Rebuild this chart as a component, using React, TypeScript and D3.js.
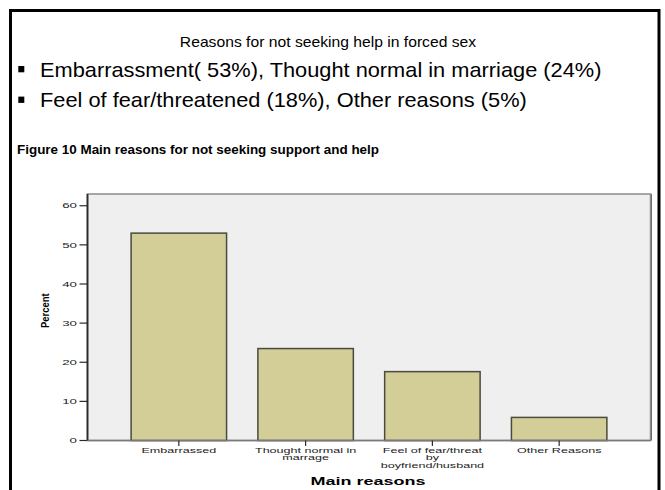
import React from 'react';
import * as d3 from 'd3';

// Slide text
const slideTitle = 'Reasons for not seeking help in forced sex';
const bulletLines = [
  'Embarrassment( 53%), Thought normal in marriage (24%)',
  'Feel of fear/threatened (18%), Other reasons (5%)',
];
const figureCaption = 'Figure 10 Main reasons for not seeking support and help';

// Chart data
const categories = ['Embarrassed', 'Thought normal in marrage', 'Feel of fear/threat by boyfriend/husband', 'Other Reasons'];
const categoryLines = [['Embarrassed'], ['Thought normal in', 'marrage'], ['Feel of fear/threat', 'by', 'boyfriend/husband'], ['Other Reasons']];
const percents = [53.0, 23.5, 17.6, 5.9];
const yTicks = [0, 10, 20, 30, 40, 50, 60];
const yTitle = 'Percent';
const xTitle = 'Main reasons';

const W = 665;
const H = 490;
const FONT = "Arial, 'Liberation Sans', sans-serif";

const plot = { left: 87.5, right: 650.5, top: 194, bottom: 440.5 };

export default function App() {
  const x = d3
    .scaleBand<string>()
    .domain(categories)
    .range([plot.left, plot.right])
    .paddingInner(0.247)
    .paddingOuter(0.344);
  const y = d3.scaleLinear().domain([0, 63]).range([plot.bottom, plot.top]);

  return (
    <svg
      width={W}
      height={H}
      style={{ position: 'absolute', left: 0, top: 0, background: '#fff' }}
      fontFamily={FONT}
    >
      {/* slide frame */}
      <rect x={10.5} y={10.5} width={648.5} height={520} fill="none" stroke="#000" strokeWidth={3} />

      {/* slide title */}
      <text transform={`translate(328,46.7) scale(1.12,1)`} textAnchor="middle" fontSize={14} fill="#000">
        {slideTitle}
      </text>

      {/* bullets */}
      {bulletLines.map((line, i) => {
        const base = 76.7 + i * 30.6;
        return (
          <g key={i}>
            <rect x={18.3} y={base - 10.7} width={6} height={6.3} fill="#000" />
            <text transform={`translate(40,${base}) scale(1.09,1)`} fontSize={20} fill="#000">
              {line}
            </text>
          </g>
        );
      })}

      {/* figure caption */}
      <text transform={`translate(17,153.7) scale(1.12,1)`} fontSize={12} fontWeight="bold" fill="#000">
        {figureCaption}
      </text>

      {/* plot background */}
      <rect
        x={plot.left}
        y={plot.top}
        width={plot.right - plot.left}
        height={plot.bottom - plot.top}
        fill="#efefef"
        stroke="#8c8c8c"
        strokeWidth={1.5}
      />
      <line x1={plot.right + 1} x2={plot.right + 1} y1={plot.top} y2={plot.bottom} stroke="#6e6e6e" strokeWidth={1} />

      {/* bars */}
      {categories.map((c, i) => (
        <rect
          key={c}
          x={x(c)}
          y={y(percents[i])}
          width={x.bandwidth()}
          height={y(0) - y(percents[i])}
          fill="#d3ce98"
          stroke="#4a4a3e"
          strokeWidth={1.5}
        />
      ))}

      {/* y axis */}
      <line x1={plot.left} x2={plot.left} y1={plot.top} y2={plot.bottom} stroke="#2a2a2a" strokeWidth={1.8} />
      {yTicks.map((t) => (
        <g key={t}>
          <line x1={plot.left - 8} x2={plot.left} y1={y(t)} y2={y(t)} stroke="#2a2a2a" strokeWidth={1.2} />
          <text
            transform={`translate(77,${y(t) + 2.7}) scale(1.8,1)`}
            textAnchor="end"
            fontSize={7.4}
            fill="#222"
          >
            {t}
          </text>
        </g>
      ))}
      <text
        transform={`translate(49,310.7) rotate(-90) scale(0.82,1)`}
        textAnchor="middle"
        fontSize={11.5}
        fontWeight="bold"
        fill="#000"
      >
        {yTitle}
      </text>

      {/* x axis */}
      <line x1={plot.left} x2={plot.right} y1={plot.bottom} y2={plot.bottom} stroke="#7a7a7a" strokeWidth={1.5} />
      {categories.map((c, i) => {
        const cx = (x(c) as number) + x.bandwidth() / 2;
        return (
          <g key={c}>
            <line x1={cx} x2={cx} y1={plot.bottom} y2={plot.bottom + 5.5} stroke="#2a2a2a" strokeWidth={1.2} />
            {categoryLines[i].map((ln, j) => (
              <text
                key={j}
                transform={`translate(${cx},${453 + j * 7.4}) scale(1.7,1)`}
                textAnchor="middle"
                fontSize={7.4}
                fill="#222"
              >
                {ln}
              </text>
            ))}
          </g>
        );
      })}
      <text
        transform={`translate(368,485) scale(1.8,1)`}
        textAnchor="middle"
        fontSize={10}
        fontWeight="bold"
        fill="#000"
      >
        {xTitle}
      </text>
    </svg>
  );
}
